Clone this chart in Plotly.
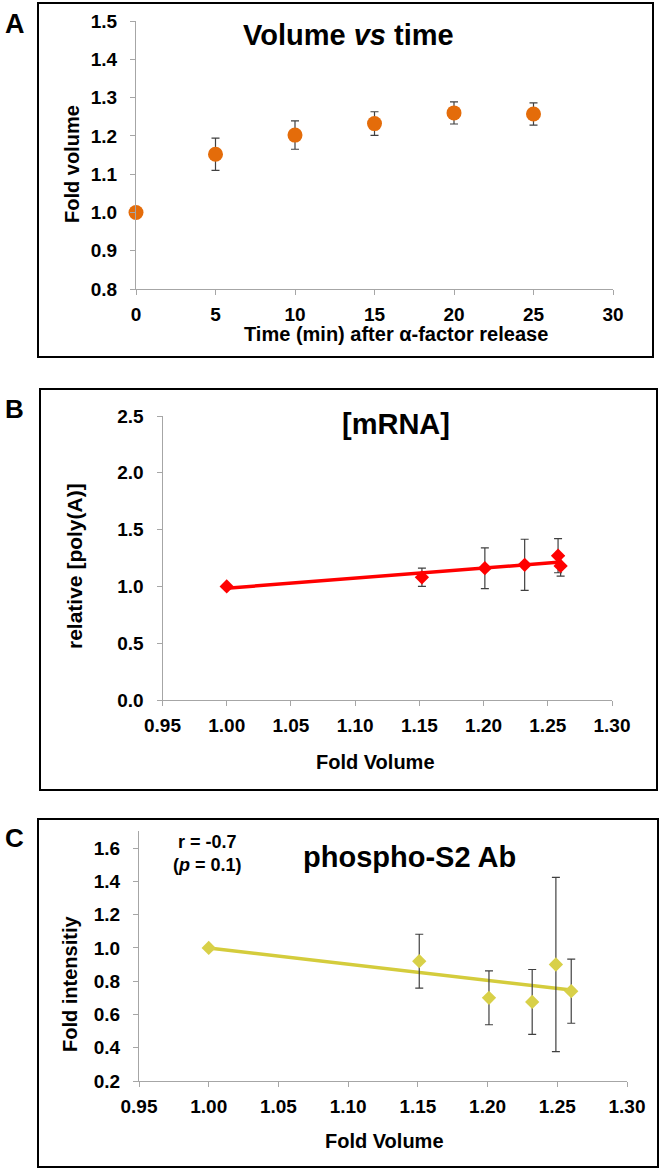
import numpy as np
import plotly.graph_objects as go

W, H = 661, 1171

# ---------------- data ----------------
# Panel A: volume vs time
time_min = [0, 5, 10, 15, 20, 25]
fold_volume = [1.000, 1.152, 1.202, 1.232, 1.260, 1.257]
fold_volume_err = [0.0, 0.042, 0.037, 0.031, 0.029, 0.029]

# Panel B: [mRNA]
mrna_volume = [1.000, 1.152, 1.201, 1.232, 1.258, 1.260]
mrna_polyA = [1.00, 1.08, 1.16, 1.19, 1.27, 1.18]
mrna_err = [0.0, 0.08, 0.18, 0.225, 0.15, 0.09]

# Panel C: phospho-S2 Ab
phos_volume = [1.000, 1.151, 1.201, 1.232, 1.249, 1.260]
phos_intensity = [1.00, 0.92, 0.70, 0.675, 0.90, 0.74]
phos_err = [0.0, 0.162, 0.162, 0.195, 0.524, 0.193]

# ---------------- helpers ----------------
FONT = "Liberation Sans, Arial, Helvetica, sans-serif"
AXCOL = "#A6A6A6"
ERRCOL = "#404040"


def px(x):
    return x / W


def py(y):
    return 1 - y / H


def axis(domain, rng, dtick, fmt, tick0, standoff):
    return dict(
        domain=domain, range=rng, tick0=tick0, dtick=dtick, tickformat=fmt,
        showline=True, linecolor=AXCOL, linewidth=1, ticks="outside",
        ticklen=5, tickcolor=AXCOL, tickwidth=1, showgrid=False,
        zeroline=False, ticklabelstandoff=standoff, automargin=False,
        tickfont=dict(family=FONT, size=19, color="black", weight="bold"),
        fixedrange=True,
    )


def trend(xs, ys):
    k, b = np.polyfit(xs, ys, 1)
    xx = np.array([min(xs), max(xs)])
    return xx, k * xx + b


fig = go.Figure()

# Panel A
fig.add_trace(go.Scatter(
    x=time_min, y=fold_volume, mode="markers",
    marker=dict(symbol="circle", size=15, color="#E46C0A"),
    error_y=dict(type="data", array=fold_volume_err, color=ERRCOL,
                 thickness=1.2, width=4),
    xaxis="x", yaxis="y", showlegend=False, cliponaxis=False,
))

# Panel B
tx, ty = trend(mrna_volume, mrna_polyA)
fig.add_trace(go.Scatter(x=tx, y=ty, mode="lines",
                         line=dict(color="#FF0000", width=3.5),
                         xaxis="x2", yaxis="y2", showlegend=False))
fig.add_trace(go.Scatter(
    x=mrna_volume, y=mrna_polyA, mode="markers",
    marker=dict(symbol="diamond", size=11, color="#FF0000"),
    error_y=dict(type="data", array=mrna_err, color=ERRCOL,
                 thickness=1.2, width=4),
    xaxis="x2", yaxis="y2", showlegend=False, cliponaxis=False,
))

# Panel C
tx, ty = trend(phos_volume, phos_intensity)
fig.add_trace(go.Scatter(x=tx, y=ty, mode="lines",
                         line=dict(color="#D4CC3C", width=3.5),
                         xaxis="x3", yaxis="y3", showlegend=False))
fig.add_trace(go.Scatter(
    x=phos_volume, y=phos_intensity, mode="markers",
    marker=dict(symbol="diamond", size=11, color="#D8D048"),
    error_y=dict(type="data", array=phos_err, color=ERRCOL,
                 thickness=1.2, width=4),
    xaxis="x3", yaxis="y3", showlegend=False, cliponaxis=False,
))

xa = axis([px(136), px(613)], [0, 30], 5, "d", 0, 3)
ya = axis([py(289), py(21)], [0.8, 1.5], 0.1, ".1f", 0.8, 9)
xb = axis([px(162.5), px(612)], [0.95, 1.30], 0.05, ".2f", 0.95, 3)
yb = axis([py(700), py(416)], [0, 2.5], 0.5, ".1f", 0, 9)
xc = axis([px(139), px(627)], [0.95, 1.30], 0.05, ".2f", 0.95, 3)
yc = axis([py(1081), py(831.4)], [0.2, 1.7], 0.2, ".1f", 0.2, 9)

xa.update(anchor="y")
ya.update(anchor="x")
xb.update(anchor="y2")
yb.update(anchor="x2")
xc.update(anchor="y3")
yc.update(anchor="x3")

shapes = []
for (l, t, r, b) in [(38, 3, 653, 357), (40, 389, 657, 790), (38, 819, 658, 1167)]:
    shapes.append(dict(type="rect", xref="paper", yref="paper",
                       x0=px(l), x1=px(r), y0=py(b), y1=py(t),
                       line=dict(color="black", width=2)))


def ann(text, x, y, size, angle=0):
    return dict(text=text, xref="paper", yref="paper", x=px(x), y=py(y),
                xanchor="center", yanchor="middle", showarrow=False,
                textangle=angle,
                font=dict(family=FONT, size=size, color="black", weight="bold"))


annotations = [
    ann("A", 15, 24, 27),
    ann("B", 14, 409, 26),
    ann("C", 14, 838, 26),
    ann("Volume <i>vs</i> time", 348, 35, 29),
    ann("[mRNA]", 396, 424, 29),
    ann("phospho-S2 Ab", 409, 857, 29),
    ann("r = -0.7", 207, 842, 18),
    ann("(<i>p</i> = 0.1)", 207, 865, 18),
    ann("Time (min) after α-factor release", 396, 334, 20),
    ann("Fold Volume", 375, 762, 20),
    ann("Fold Volume", 384, 1141, 20),
    ann("Fold volume", 72, 164, 20, -90),
    ann("relative [poly(A)]", 74, 566, 21, -90),
    ann("Fold intensitiy", 70, 984, 20, -90),
]

fig.update_layout(
    width=W, height=H,
    margin=dict(l=0, r=0, t=0, b=0, pad=0, autoexpand=False),
    paper_bgcolor="white", plot_bgcolor="white",
    xaxis=xa, yaxis=ya, xaxis2=xb, yaxis2=yb, xaxis3=xc, yaxis3=yc,
    shapes=shapes, annotations=annotations, showlegend=False,
)

fig.write_html(
    "out.html",
    config={"displayModeBar": False},
    post_script="document.body.style.margin='0';document.body.style.overflow='hidden';",
)
